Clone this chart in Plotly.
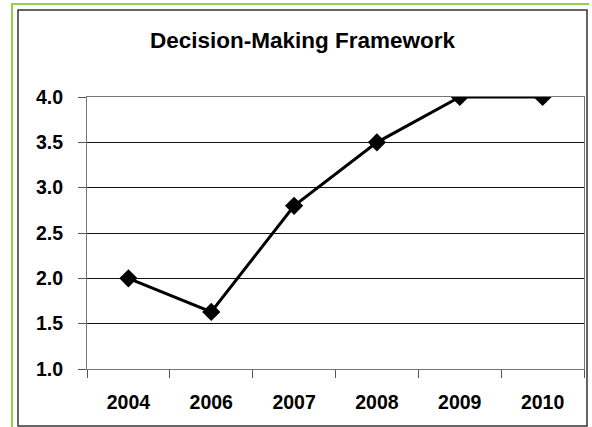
import plotly.graph_objects as go

years = ["2004", "2006", "2007", "2008", "2009", "2010"]
scores = [2.0, 1.63, 2.8, 3.5, 4.0, 4.0]
y_ticks = [1.0, 1.5, 2.0, 2.5, 3.0, 3.5, 4.0]
title_text = "Decision-Making Framework"

W, H = 592, 427
L, R, T, B = 87, 584, 97, 369  # plot area in pixels


def xp(px):
    return (px - L) / (R - L)


def yp(py):
    return (B - py) / (B - T)


fig = go.Figure()
fig.add_trace(go.Scatter(
    x=years, y=scores, mode="lines+markers",
    line=dict(color="black", width=3),
    marker=dict(symbol="diamond", size=14, color="black"),
    showlegend=False,
))

font_family = "Liberation Sans, Arial, sans-serif"

fig.update_layout(
    width=W, height=H,
    margin=dict(l=L, r=W - R, t=T, b=H - B, pad=0),
    paper_bgcolor="white", plot_bgcolor="white",
    title=dict(text=title_text, x=302.5 / W, xanchor="center",
               y=1 - 40 / H, yanchor="middle", xref="container", yref="container",
               font=dict(family=font_family, size=22.5, color="black", weight="bold")),
    xaxis=dict(type="category", range=[-0.5, 5.5], tickson="boundaries",
               ticks="outside", ticklen=8, tickcolor="#555555", tickwidth=1,
               showline=True, linecolor="#777777", linewidth=1, mirror=True,
               showgrid=False, zeroline=False, ticklabelstandoff=16,
               tickfont=dict(family=font_family, size=19.5, color="black", weight="bold")),
    yaxis=dict(range=[1.0, 4.0], tickvals=y_ticks,
               ticktext=[f"{v:.1f}" for v in y_ticks],
               ticks="outside", ticklen=8, tickcolor="#555555", tickwidth=1,
               showline=True, linecolor="#777777", linewidth=1, mirror=True,
               showgrid=True, gridcolor="#111111", gridwidth=1, zeroline=False,
               ticklabelstandoff=11,
               tickfont=dict(family=font_family, size=19.5, color="black", weight="bold")),
)

shapes = [
    # outer dark border of chart area
    dict(type="rect", xref="paper", yref="paper",
         x0=xp(18), x1=xp(587), y0=yp(426), y1=yp(10),
         line=dict(color="#333333", width=1.5), fillcolor="rgba(0,0,0,0)", layer="below"),
    # green frame lines (left and top)
    dict(type="line", xref="paper", yref="paper",
         x0=xp(12), x1=xp(12), y0=yp(3), y1=yp(440),
         line=dict(color="#92D050", width=2)),
    dict(type="line", xref="paper", yref="paper",
         x0=xp(11), x1=xp(589), y0=yp(4), y1=yp(4),
         line=dict(color="#92D050", width=2)),
]
fig.update_layout(shapes=shapes)

fig.write_html("out.html", config={"displayModeBar": False},
               post_script="document.body.style.margin='0';document.body.style.overflow='hidden';")
